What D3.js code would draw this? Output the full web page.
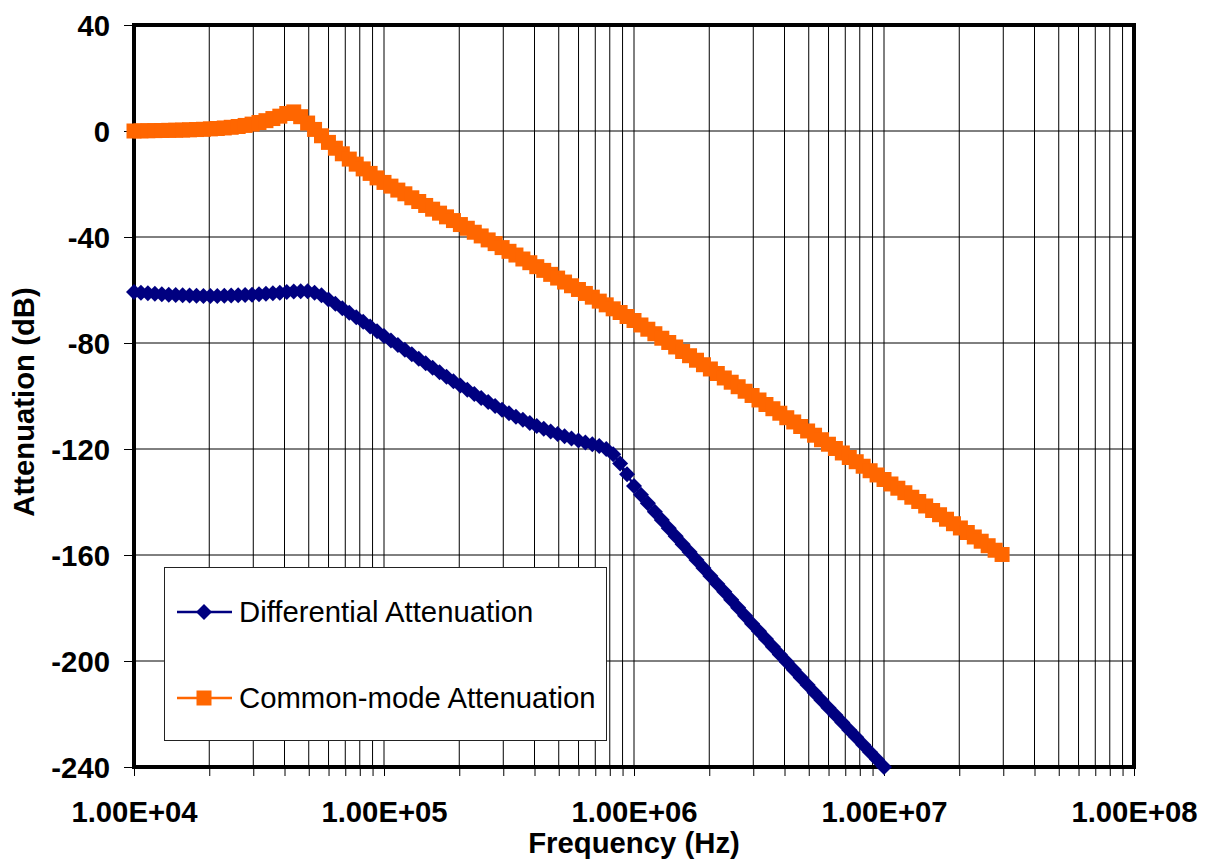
<!DOCTYPE html>
<html><head><meta charset="utf-8">
<script src="https://cdn.jsdelivr.net/npm/d3@7/dist/d3.min.js"></script>
<style>body{margin:0;background:#fff} svg{display:block}</style>
</head><body><svg id="c" width="1208" height="864"></svg>
<script>
// Frequencies (Hz) of the measured points
const freqs = [
 1.000e4,1.066e4,1.136e4,1.212e4,1.292e4,1.377e4,1.468e4,1.565e4,1.668e4,1.778e4,1.896e4,2.021e4,2.154e4,2.297e4,2.448e4,2.610e4,2.783e4,2.967e4,
 3.162e4,3.371e4,3.594e4,3.831e4,4.084e4,4.354e4,4.642e4,4.949e4,5.275e4,5.623e4,5.995e4,6.391e4,6.813e4,7.263e4,7.743e4,8.254e4,8.799e4,9.381e4,
 1.000e5,1.066e5,1.136e5,1.212e5,1.292e5,1.377e5,1.468e5,1.565e5,1.668e5,1.778e5,1.896e5,2.021e5,2.154e5,2.297e5,2.448e5,2.610e5,2.783e5,2.967e5,
 3.162e5,3.371e5,3.594e5,3.831e5,4.084e5,4.354e5,4.642e5,4.949e5,5.275e5,5.623e5,5.995e5,6.391e5,6.813e5,7.263e5,7.743e5,8.254e5,8.799e5,9.381e5,
 1.000e6,1.066e6,1.136e6,1.212e6,1.292e6,1.377e6,1.468e6,1.565e6,1.668e6,1.778e6,1.896e6,2.021e6,2.154e6,2.297e6,2.448e6,2.610e6,2.783e6,2.967e6,
 3.162e6,3.371e6,3.594e6,3.831e6,4.084e6,4.354e6,4.642e6,4.949e6,5.275e6,5.623e6,5.995e6,6.391e6,6.813e6,7.263e6,7.743e6,8.254e6,8.799e6,9.381e6,
 1.000e7,1.066e7,1.136e7,1.212e7,1.292e7,1.377e7,1.468e7,1.565e7,1.668e7,1.778e7,1.896e7,2.021e7,2.154e7,2.297e7,2.448e7,2.610e7,2.783e7,2.967e7
];
// Differential attenuation (dB), first 109 frequencies
const diffAtten = [
 -60.8,-61.0,-61.2,-61.4,-61.6,-61.8,-61.9,-62.0,-62.1,-62.2,-62.3,-62.3,-62.3,-62.2,-62.1,-62.0,-61.9,-61.8,
 -61.6,-61.4,-61.2,-61.0,-60.8,-60.6,-60.5,-60.5,-61.0,-62.0,-63.6,-65.2,-66.9,-68.6,-70.3,-72.0,-73.8,-75.6,
 -77.4,-79.1,-80.8,-82.5,-84.2,-85.9,-87.6,-89.3,-91.0,-92.7,-94.4,-96.0,-97.6,-99.2,-100.8,-102.3,-103.8,-105.2,
 -106.5,-107.8,-109.0,-110.2,-111.3,-112.4,-113.4,-114.3,-115.2,-116.0,-116.8,-117.5,-118.2,-118.9,-120.0,-122.0,-125.5,-129.5,
 -134.0,-137.3,-140.5,-143.7,-146.8,-149.9,-152.9,-155.9,-158.9,-161.9,-164.9,-167.9,-170.9,-173.9,-176.9,-179.9,-182.9,-185.9,
 -188.8,-191.7,-194.6,-197.5,-200.4,-203.3,-206.2,-209.1,-212.0,-214.8,-217.6,-220.4,-223.2,-226.0,-228.8,-231.6,-234.4,-237.2,
 -240.0
];
// Common-mode attenuation (dB), all 126 frequencies
const cmAtten = [
 0.0,0.05,0.1,0.15,0.2,0.25,0.3,0.35,0.45,0.55,0.65,0.8,0.95,1.15,1.4,1.7,2.1,2.6,
 3.2,3.9,4.7,5.6,6.6,7.2,5.4,3.0,0.6,-1.8,-4.3,-6.5,-8.6,-10.6,-12.5,-14.3,-16.0,-17.7,
 -19.4,-20.8,-22.3,-23.7,-25.2,-26.6,-28.1,-29.5,-31.0,-32.4,-33.8,-35.3,-36.7,-38.2,-39.6,-41.1,-42.5,-44.0,
 -45.4,-46.8,-48.3,-49.7,-51.2,-52.6,-54.1,-55.5,-57.0,-58.4,-59.8,-61.3,-62.7,-64.2,-65.6,-67.1,-68.5,-70.0,
 -71.5,-73.2,-74.8,-76.5,-78.2,-79.8,-81.5,-83.2,-84.8,-86.5,-88.2,-89.8,-91.5,-93.2,-94.8,-96.5,-98.2,-99.8,
 -101.5,-103.2,-104.8,-106.5,-108.2,-109.8,-111.5,-113.2,-114.8,-116.5,-118.2,-119.8,-121.5,-123.2,-124.8,-126.5,-128.2,-129.8,
 -131.5,-133.2,-134.8,-136.5,-138.2,-139.8,-141.5,-143.2,-144.8,-146.5,-148.2,-149.8,-151.5,-153.2,-154.8,-156.5,-158.2,-159.8
];
const yTicks = [40, 0, -40, -80, -120, -160, -200, -240];
const xMajorTicks = [1e4, 1e5, 1e6, 1e7, 1e8];
const xTickLabels = ["1.00E+04", "1.00E+05", "1.00E+06", "1.00E+07", "1.00E+08"];
const seriesNames = ["Differential Attenuation", "Common-mode Attenuation"];
const xTitle = "Frequency (Hz)";
const yTitle = "Attenuation (dB)";

const FONT = "Arial, 'Liberation Sans', sans-serif";
const FS = 29.3;
const BLUE = "#000080", ORANGE = "#FF6600";
const svg = d3.select("#c");
const m = {l: 134, r: 1134, t: 25, b: 767};
const x = d3.scaleLog().domain([1e4, 1e8]).range([m.l, m.r]);
const y = d3.scaleLinear().domain([-240, 40]).range([m.b, m.t]);

svg.append("rect").attr("width", 1208).attr("height", 864).attr("fill", "#fff");

// gridlines
const allX = x.ticks();
const grid = svg.append("g");
grid.selectAll("line.v").data(allX).join("line")
  .attr("x1", d => x(d)).attr("x2", d => x(d)).attr("y1", m.t).attr("y2", m.b)
  .attr("stroke", "#000").attr("stroke-width", 1);
grid.selectAll("line.h").data(yTicks).join("line")
  .attr("x1", m.l).attr("x2", m.r).attr("y1", d => y(d)).attr("y2", d => y(d))
  .attr("stroke", "#000").attr("stroke-width", 1);

// axes
const yAxis = svg.append("g").attr("transform", `translate(${m.l},0)`)
  .call(d3.axisLeft(y).tickValues(yTicks).tickSize(10).tickPadding(14).tickFormat(d3.format("d")));
yAxis.select(".domain").remove();
yAxis.selectAll("line").attr("stroke", "#000").attr("stroke-width", 1);
yAxis.selectAll("text").attr("font-family", FONT).attr("font-size", FS).attr("font-weight", "bold")
  .attr("fill", "#000").attr("dy", "0.36em").text(d => (d < 0 ? "-" : "") + Math.abs(d));

const lblMap = new Map(xMajorTicks.map((v, i) => [v, xTickLabels[i]]));
const xAxis = svg.append("g").attr("transform", `translate(0,${m.b})`)
  .call(d3.axisBottom(x).tickValues(allX).tickSize(9)
    .tickFormat(d => { for (const [k, v] of lblMap) if (Math.abs(d / k - 1) < 1e-6) return v; return ""; }));
xAxis.select(".domain").remove();
xAxis.selectAll("line").attr("stroke", "#000").attr("stroke-width", 1);
xAxis.selectAll("text").attr("font-family", FONT).attr("font-size", FS).attr("font-weight", "bold")
  .attr("fill", "#000").attr("y", 55).attr("dy", 0);

// plot border
svg.append("rect").attr("x", m.l).attr("y", m.t).attr("width", m.r - m.l).attr("height", m.b - m.t)
  .attr("fill", "none").attr("stroke", "#000").attr("stroke-width", 4);

// legend
const lg = svg.append("g");
lg.append("rect").attr("x", 164.5).attr("y", 567.5).attr("width", 442).attr("height", 173)
  .attr("fill", "#fff").attr("stroke", "#222").attr("stroke-width", 1);

const diamond = "M0,-8L8,0L0,8L-8,0Z";
const square = "M-7.5,-7.5H7.5V7.5H-7.5Z";

const series = [
  {name: seriesNames[0], vals: diffAtten, color: BLUE, sym: diamond},
  {name: seriesNames[1], vals: cmAtten, color: ORANGE, sym: square}
];
const line = d3.line().x(d => x(d[0])).y(d => y(d[1]));
series.forEach((s, si) => {
  const pts = s.vals.map((v, i) => [freqs[i], v]);
  const g = svg.append("g");
  g.append("path").attr("d", line(pts)).attr("fill", "none").attr("stroke", s.color).attr("stroke-width", 2.5);
  g.selectAll("path.m").data(pts).join("path").attr("class", "m")
    .attr("d", s.sym).attr("transform", d => `translate(${x(d[0])},${y(d[1])})`).attr("fill", s.color);
  const ly = [612, 698][si];
  lg.append("line").attr("x1", 177).attr("x2", 232).attr("y1", ly).attr("y2", ly)
    .attr("stroke", s.color).attr("stroke-width", 2.5);
  lg.append("path").attr("d", s.sym).attr("transform", `translate(204,${ly})`).attr("fill", s.color);
  lg.append("text").attr("x", 239).attr("y", ly).attr("dy", "0.35em").attr("font-family", FONT)
    .attr("font-size", FS).attr("fill", "#000").text(s.name);
});

// titles
svg.append("text").attr("x", (m.l + m.r) / 2).attr("y", 853).attr("text-anchor", "middle")
  .attr("font-family", FONT).attr("font-size", FS).attr("font-weight", "bold").text(xTitle);
svg.append("text").attr("transform", `translate(34,${(m.t + m.b) / 2 + 6}) rotate(-90)`).attr("text-anchor", "middle")
  .attr("font-family", FONT).attr("font-size", FS).attr("font-weight", "bold").text(yTitle);
</script></body></html>
